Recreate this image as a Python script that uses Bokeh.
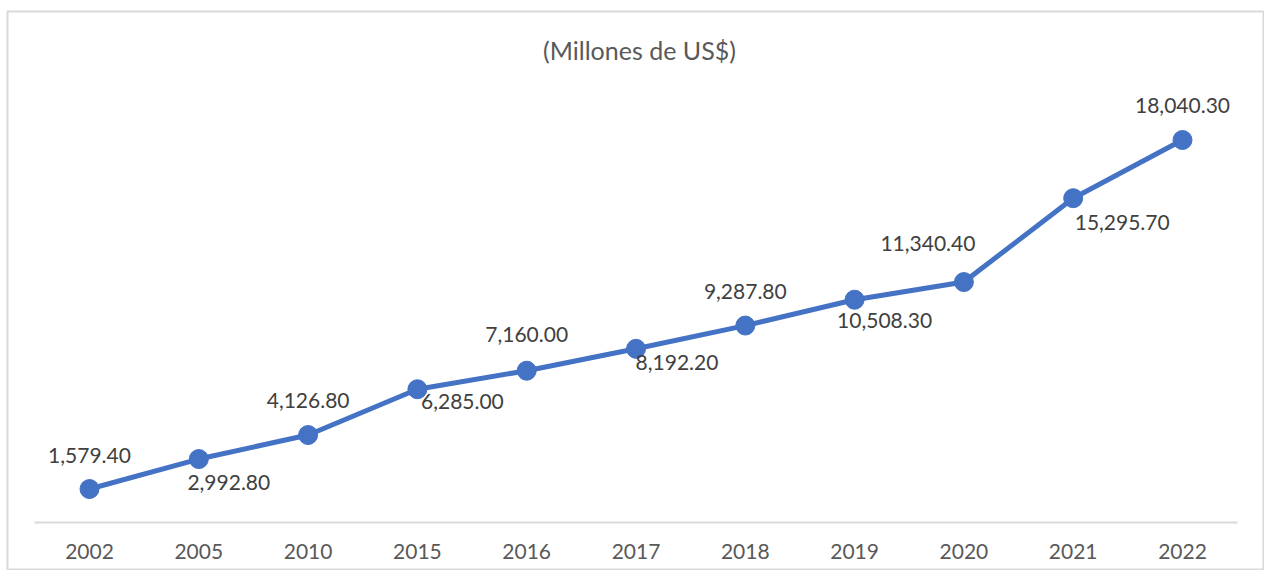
from bokeh.plotting import figure
from bokeh.models import ColumnDataSource, FactorRange, Range1d, Label, CategoricalAxis
from bokeh.embed import file_html
from bokeh.resources import INLINE
from bokeh.core.properties import value

# ---- data ----
years = ["2002", "2005", "2010", "2015", "2016", "2017", "2018", "2019", "2020", "2021", "2022"]
values = [1579.40, 2992.80, 4126.80, 6285.00, 7160.00, 8192.20, 9287.80, 10508.30, 11340.40, 15295.70, 18040.30]
title_text = "(Millones de US$)"

# ---- label placement (pixels, style only) ----
label_dx = [0, 30, 0, 45, 0, 41, 0, 30, -36, 49, 0]
label_dy = [-34, 23, -35, 12, -36, 14, -34, 21, -39, 24, -35]

FONT = "Lato"
src = ColumnDataSource(dict(
    year=years,
    val=values,
    label=[f"{v:,.2f}" for v in values],
    dx=label_dx,
    dy=label_dy,
))

W, H = 1264, 570
p = figure(
    x_range=FactorRange(*years, range_padding=0.0455),
    y_range=Range1d(-2264, 24101),
    width=W, height=H,
    output_backend="svg", toolbar_location=None,
    min_border_left=7, min_border_right=0, min_border_top=11, min_border_bottom=0,
    x_axis_location=None, y_axis_location=None,
)
p.xgrid.visible = False
p.ygrid.visible = False
p.background_fill_color = "white"
p.border_fill_color = "white"
p.outline_line_color = "#d9d9d9"
p.outline_line_width = 2

ax = CategoricalAxis(fixed_location=0, bounds=(0, len(years)))
ax.axis_line_color = "#d9d9d9"
ax.axis_line_width = 2
ax.major_tick_line_color = None
ax.minor_tick_line_color = None
ax.major_tick_out = 0
ax.major_tick_in = 0
ax.major_label_standoff = 22
ax.major_label_text_font = FONT
ax.major_label_text_font_size = "21px"
ax.major_label_text_color = "#595959"
p.add_layout(ax, "below")

p.line(x="year", y="val", source=src, line_color="#4472C4", line_width=5)
p.scatter(x="year", y="val", source=src, size=19, fill_color="#4472C4", line_color="#4472C4")
p.text(x="year", y="val", text="label", source=src, x_offset="dx", y_offset="dy",
       text_align="center", text_baseline="middle",
       text_font=value(FONT), text_font_size="21px", text_color="#404040")

title = Label(x=632, y=521, x_units="screen", y_units="screen", text=title_text,
              text_align="center", text_baseline="middle",
              text_font=FONT, text_font_size="25px", text_color="#595959")
p.add_layout(title)

open("out.html", "w").write(file_html(p, INLINE))
